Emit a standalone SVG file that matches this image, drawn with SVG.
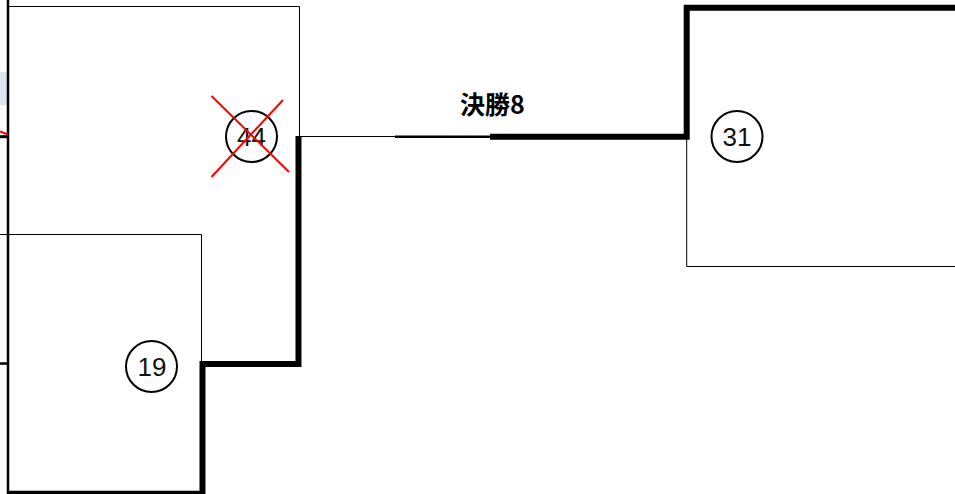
<svg xmlns="http://www.w3.org/2000/svg" width="955" height="494" viewBox="0 0 955 494">
<style>
.thin{fill:none;stroke:#000;stroke-width:1}
.med{fill:none;stroke:#000;stroke-width:2.5}
.thick{fill:none;stroke:#000;stroke-width:6;stroke-linejoin:miter;stroke-linecap:square}
.ring{fill:#fff;stroke:#000;stroke-width:2}
.num{font-family:"Liberation Sans",Arial,sans-serif;font-size:26px;text-anchor:middle;fill:#111}
.lbl{font-family:"Noto Sans CJK JP","Liberation Sans",sans-serif;font-size:25px;font-weight:bold;text-anchor:middle;fill:#000}
.cross{stroke:#f00;stroke-width:2;fill:none}
</style>
<rect x="0" y="0" width="955" height="494" fill="#fff"/>
<rect x="0" y="72" width="7" height="33" fill="#dce6f1"/>
<g id="connectors">
  <path class="thin" d="M8 6.5H299.5V136.5H395"/>
  <path class="med" d="M395 136.8H493"/>
  <path class="thick" d="M493 136.8H686.7V7.8H960"/>
  <path class="thin" d="M686.7 137V266.5H955"/>
  <path class="thin" d="M0 234.5H201.5V362"/>
  <path class="thick" d="M298.5 139V364H202.5V497"/>
  <path class="med" d="M8 0V494"/>
  <path d="M8 492.5H204" stroke="#000" stroke-width="3.5" fill="none"/>
  <path d="M0 136.7H8" stroke="#000" stroke-width="3"/>
  <path d="M0 363.5H8" stroke="#000" stroke-width="2.5"/>
  <path d="M0 131.5Q4 133 8 134.5" stroke="#f00" stroke-width="2" fill="none"/>
</g>
<g id="label-final8">
  <text class="lbl" x="492.5" y="114">決勝8</text>
</g>
<g id="node-44">
  <circle class="ring" cx="251.5" cy="136.5" r="25.5"/>
  <text class="num" x="251.5" y="145.5">44</text>
  <path class="cross" d="M211.5 96L289 172M283 100L211.5 177"/>
</g>
<g id="node-19">
  <circle class="ring" cx="151.5" cy="366.5" r="25.5"/>
  <text class="num" x="152" y="375.5">19</text>
</g>
<g id="node-31">
  <circle class="ring" cx="737" cy="136.5" r="25.5"/>
  <text class="num" x="737" y="146">31</text>
</g>
</svg>
